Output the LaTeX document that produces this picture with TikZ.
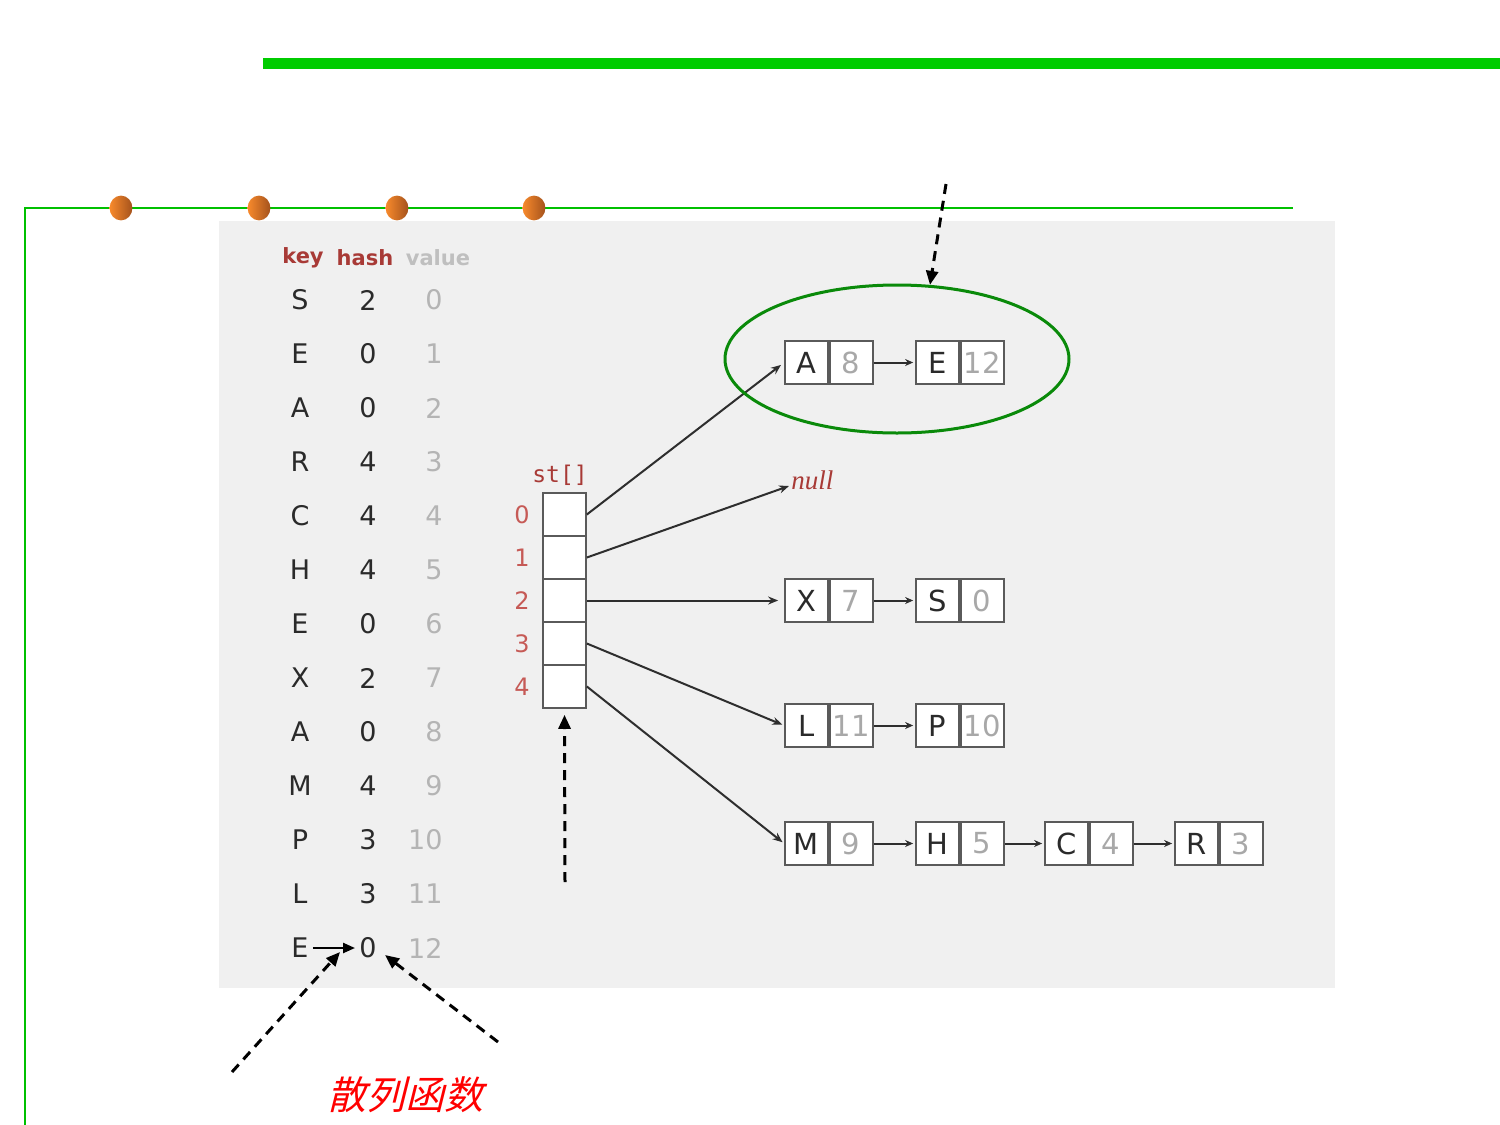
\documentclass[tikz,border=0pt]{standalone}
\usepackage{fontspec}
\setmainfont{DejaVu Sans}
\newfontfamily\cjkf[FakeSlant=0.25]{Noto Sans CJK SC}
\newfontfamily\monof{DejaVu Sans Mono}
\newfontfamily\serifit{Liberation Serif}
\usetikzlibrary{shapes.geometric,arrows.meta}
\definecolor{bggray}{HTML}{F0F0F0}
\definecolor{barg}{HTML}{00CC00}
\definecolor{lineg}{HTML}{00C000}
\definecolor{ellg}{HTML}{0A8A0A}
\definecolor{dotL}{HTML}{F88A2C}
\definecolor{dotR}{HTML}{A4521C}
\definecolor{hdrred}{HTML}{A83A36}
\definecolor{idxred}{HTML}{C65A56}
\definecolor{keytxt}{HTML}{2A2A2A}
\definecolor{valtxt}{HTML}{B4B4B4}
\definecolor{boxval}{HTML}{A8A8A8}
\definecolor{boxline}{HTML}{5A5A5A}
\definecolor{ptrcol}{HTML}{2E2E2E}
\begin{document}
\begin{tikzpicture}[x=0.5pt,y=-0.5pt,
  tkey/.style={text=keytxt, inner sep=2pt, font=\fontsize{13.5}{15}\selectfont},
  tval/.style={text=valtxt, inner sep=0pt, anchor=east, font=\fontsize{13.5}{15}\selectfont},
  thdr/.style={font=\bfseries\fontsize{10.5}{12}\selectfont, inner sep=0pt},
  kcell/.style={draw=boxline, fill=white, line width=0.85pt, minimum width=21.5pt, minimum height=21.5pt, inner sep=0pt, text=keytxt, font=\fontsize{14.5}{16}\selectfont},
  vcell/.style={kcell, text=boxval, anchor=west},
  acell/.style={draw=boxline, fill=white, line width=0.85pt, minimum width=21.5pt, minimum height=21.5pt, inner sep=0pt},
  idx/.style={text=idxred, font=\fontsize{12}{14}\selectfont, inner sep=0pt},
  ptr/.style={draw=ptrcol, line width=1pt, -{Stealth[length=5pt,width=4pt]}},
  lnk/.style={draw=ptrcol, line width=1pt, -{Stealth[length=4pt,width=3.5pt]}, shorten >=1pt},
  dasharr/.style={line width=1.5pt, dash pattern=on 5pt off 3.5pt, -{Triangle[length=7pt,width=6pt]}}
]
\useasboundingbox (0,0) rectangle (1500,1125);
\fill[white] (0,0) rectangle (1500,1125);
% decorations
\fill[barg] (263,58) rectangle (1500,69);
\fill[bggray] (219,221) rectangle (1335,988);
\draw[lineg, line width=1pt] (25,1125) -- (25,208) -- (1293,208);
\foreach \x in {121,259,397,534}
  \shade[left color=dotL, right color=dotR] (\x,208) ellipse [x radius=5.7pt, y radius=6.2pt];
% table header
\node[thdr, text=hdrred] (hk) at (303,258) {key};
\node[thdr, text=hdrred] (hh) at (365,258) {hash};
\node[thdr, text=valtxt!85] (hv) at (438,258) {value};
% table rows
\foreach \k/\h/\v [count=\i from 0] in {S/2/0,E/0/1,A/0/2,R/4/3,C/4/4,H/4/5,E/0/6,X/2/7,A/0/8,M/4/9,P/3/10,L/3/11,E/0/12} {
  \node[tkey] (k\i) at (300,{300+54*\i}) {\k};
  \node[tkey] (h\i) at (368,{300+54*\i}) {\h};
  \node[tval] (v\i) at (443,{300+54*\i}) {\v};
}
% array
\node[text=hdrred, font=\monof\fontsize{11.5}{13}\selectfont] (st) at (560,475) {st[]};
\foreach \i in {0,...,4} {
  \node[acell] (s\i) at (564.5,{514.5+43*\i}) {};
  \node[idx] (i\i) at (522,{514.5+43*\i}) {\i};
}
% lists
\node[kcell] (nA) at (806.5,362.5) {A};
\node[vcell] (nAv) at (nA.east) {8};
\node[kcell] (nE) at (937.5,362.5) {E};
\node[vcell] (nEv) at (nE.east) {12};
\node[kcell] (nX) at (806.5,600.5) {X};
\node[vcell] (nXv) at (nX.east) {7};
\node[kcell] (nS) at (937.5,600.5) {S};
\node[vcell] (nSv) at (nS.east) {0};
\node[kcell] (nL) at (806.5,725.5) {L};
\node[vcell] (nLv) at (nL.east) {11};
\node[kcell] (nP) at (937.5,725.5) {P};
\node[vcell] (nPv) at (nP.east) {10};
\node[kcell] (nM) at (806.5,843.5) {M};
\node[vcell] (nMv) at (nM.east) {9};
\node[kcell] (nH) at (937.5,843.5) {H};
\node[vcell] (nHv) at (nH.east) {5};
\node[kcell] (nC) at (1066.5,843.5) {C};
\node[vcell] (nCv) at (nC.east) {4};
\node[kcell] (nR) at (1196.5,843.5) {R};
\node[vcell] (nRv) at (nR.east) {3};
\node[text=hdrred, font=\serifit\itshape\fontsize{13.5}{15}\selectfont, anchor=west, inner sep=1pt] (nul) at (789,480) {null};
% pointers
\draw[ptr, shorten >=2pt] (s0.east) -- (nA.west);
\draw[ptr] (s1.east) -- ([yshift=-3pt]nul.west);
\draw[ptr, shorten >=3pt] (s2.east) -- (nX.west);
\draw[ptr, shorten >=1pt] (s3.east) -- (nL.west);
\draw[ptr, shorten >=1pt] (s4.east) -- (nM.west);
\draw[lnk] (nAv.east) -- (nE.west);
\draw[lnk] (nXv.east) -- (nS.west);
\draw[lnk] (nLv.east) -- (nP.west);
\draw[lnk] (nMv.east) -- (nH.west);
\draw[lnk] (nHv.east) -- (nC.west);
\draw[lnk] (nCv.east) -- (nR.west);
% ellipse highlight
\node[draw=ellg, line width=1.5pt, ellipse, minimum width=172pt, minimum height=74pt, inner sep=0pt] (ell) at (897,359) {};
% annotations
\coordinate (tA) at (946,184);
\draw[dasharr] (tA) -- (ell.66);
\coordinate (tB) at (565,882);
\draw[dasharr] (tB) -- ([yshift=-3pt]s4.south);
\draw[line width=1.2pt, -{Triangle[length=6pt,width=5pt]}] (k12.east) -- (h12.west);
\coordinate (tC) at (232,1072);
\draw[dasharr] (tC) -- ([xshift=-7.5pt,yshift=-2pt]h12.west);
\coordinate (tD) at (498,1042);
\draw[dasharr] (tD) -- ([xshift=2pt,yshift=-3.5pt]h12.east);
\node[text=red, font=\cjkf\fontsize{19.5}{22}\selectfont] (hf) at (405,1095) {散列函数};
\end{tikzpicture}
\end{document}
